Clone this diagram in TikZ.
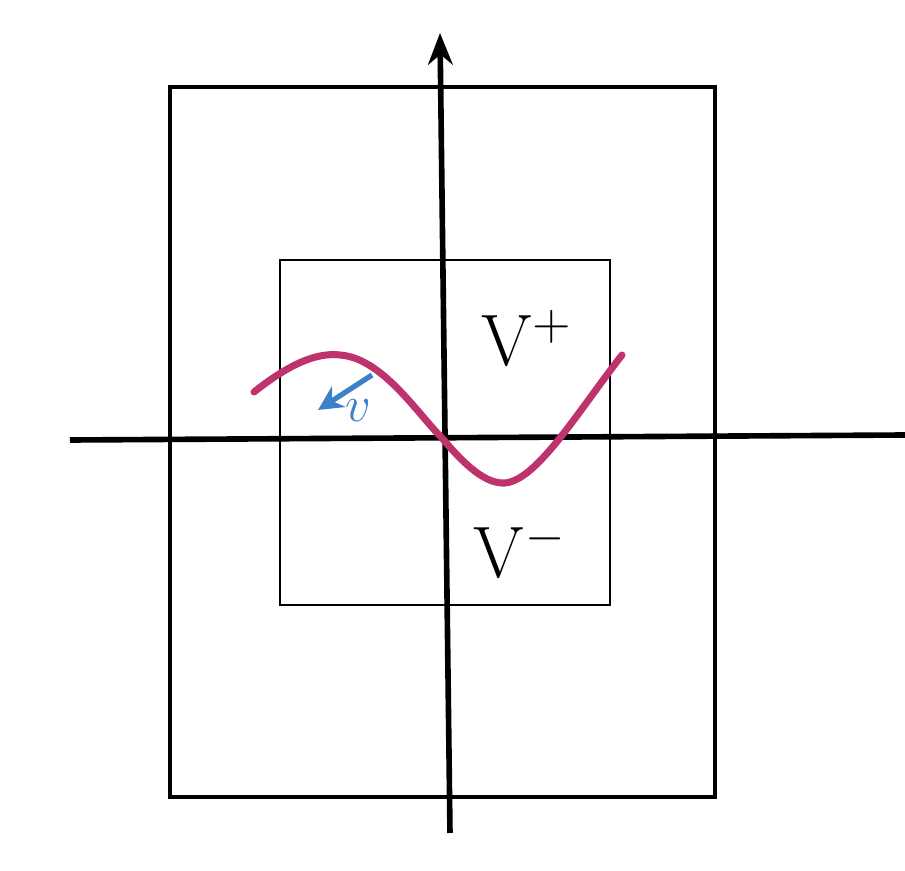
\documentclass[tikz,border=0pt]{standalone}
\usepackage{amsmath,amssymb}
\usepackage{tikz}
\usetikzlibrary{arrows.meta,positioning,calc}
\definecolor{curvecol}{RGB}{190,50,110}
\definecolor{veccol}{RGB}{60,130,200}

\begin{document}
\begin{tikzpicture}[x=1cm,y=1cm,
    outerbox/.style={line width=1.4pt},
    innerbox/.style={line width=0.6pt},
    axis/.style={line width=1.6pt},
    region/.style={font=\fontsize{21}{25}\selectfont}]
    \useasboundingbox (-4.42,-4.33) rectangle (4.63,4.38);
    % Coordinates
    \coordinate (O) at (0,0);
    \coordinate (xl) at (-3.72,-0.02);
    \coordinate (xr) at (4.63,0.03);
    \coordinate (yb) at (0.08,-3.95);
    \coordinate (yt) at (-0.02,4.05);
    % Boxes
    \draw[outerbox] (-2.72,3.51) rectangle (2.73,-3.59);
    \draw[innerbox] (-1.62,1.78) rectangle (1.68,-1.67);
    % Axes
    \draw[axis] (xl) -- (xr);
    \draw[axis,-{Stealth[length=9pt,width=7pt]}] (yb) -- (yt);
    % Curve
    \draw[curvecol,line width=2pt,line cap=round]
        (-1.88,0.46) .. controls (-1.45,0.80) and (-1.20,0.85) .. (-1.02,0.83)
        .. controls (-0.60,0.80) and (-0.25,0.25) .. (O)
        .. controls (0.25,-0.30) and (0.45,-0.46) .. (0.63,-0.45)
        .. controls (0.95,-0.42) and (1.35,0.25) .. (1.80,0.83);
    % Vector
    \coordinate (vs) at (-0.70,0.63);
    \coordinate (ve) at (-1.24,0.28);
    \draw[veccol,line width=1.5pt,-{Stealth[length=7pt,width=7pt]}] (vs) -- (ve);
    \node[veccol,font=\Large] (v) at (-0.84,0.27) {\(v\)};
    % Labels
    \node[region] (Vp) at (0.85,1.0) {\(\mathrm{V}^{+}\)};
    \node[region] (Vm) at (0.78,-1.12) {\(\mathrm{V}^{-}\)};
\end{tikzpicture}
\end{document}
